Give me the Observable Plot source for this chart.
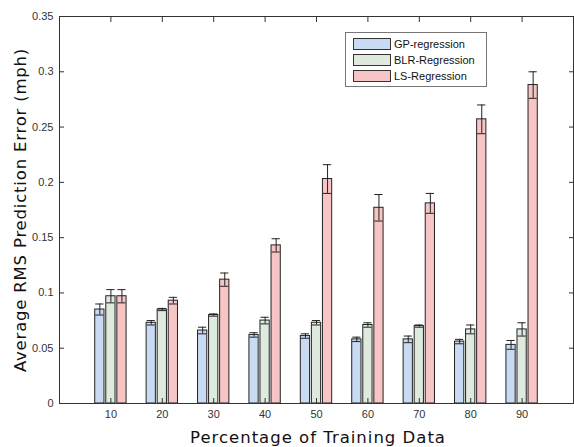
<!DOCTYPE html>
<html>
<head>
<meta charset="utf-8">
<script src="https://cdn.jsdelivr.net/npm/d3@7"></script>
<script src="https://cdn.jsdelivr.net/npm/@observablehq/plot@0.6"></script>
<style>
  body { margin: 0; background: #fff; }
  #wrap { position: relative; width: 574px; height: 447px; overflow: hidden; }
  #legend { position: absolute; left: 345px; top: 32px; width: 142px; height: 55px;
    border: 1px solid #777; background: #fff; font: 11px "Liberation Sans", Arial, sans-serif; color: #111; box-sizing: border-box; }
  .row { position: absolute; left: 7px; height: 13px; display: flex; align-items: center; }
  .sw { width: 38px; height: 12px; border: 1px solid #333; box-sizing: border-box; margin-right: 3px; }
  #ytitle { position: absolute; font: 16.5px "DejaVu Sans", sans-serif; letter-spacing: 0.8px; color: #111; white-space: nowrap;
    transform: translate(-50%, -50%) rotate(-90deg); left: 20px; top: 210px; }
  #xtitle { position: absolute; font: 16.5px "DejaVu Sans", sans-serif; letter-spacing: 1px; color: #111; white-space: nowrap;
    transform: translateX(-50%); left: 318px; top: 428px; }
</style>
</head>
<body>
<div id="wrap"></div>
<script>
const categories = [10, 20, 30, 40, 50, 60, 70, 80, 90];
const seriesNames = ["GP-regression", "BLR-Regression", "LS-Regression"];
const gp     = [0.085, 0.073, 0.066, 0.062, 0.061, 0.058, 0.058, 0.056, 0.053];
const gpErr  = [0.005, 0.002, 0.003, 0.002, 0.002, 0.002, 0.003, 0.002, 0.004];
const blr    = [0.097, 0.085, 0.080, 0.075, 0.073, 0.071, 0.070, 0.067, 0.067];
const blrErr = [0.006, 0.001, 0.001, 0.003, 0.002, 0.002, 0.001, 0.004, 0.006];
const ls     = [0.097, 0.093, 0.112, 0.143, 0.203, 0.177, 0.181, 0.257, 0.288];
const lsErr  = [0.006, 0.003, 0.006, 0.006, 0.013, 0.012, 0.009, 0.013, 0.012];
const yTicks = [0, 0.05, 0.1, 0.15, 0.2, 0.25, 0.3, 0.35];
const colors = ["#c9dbf3", "#dfeadf", "#f7c5c5"];

// layout (in x data units)
const offsets = [-2.15, 0, 2.15];
const barW = 1.8;
const capW = 1.6;

const vals = [gp, blr, ls], errs = [gpErr, blrErr, lsErr];
const rows = [];
seriesNames.forEach((s, si) => categories.forEach((c, ci) => {
  rows.push({series: s, cat: c, xc: c + offsets[si], v: vals[si][ci], e: errs[si][ci], color: colors[si]});
}));

const tf = d => String(+d.toFixed(2));

const chart = Plot.plot({
  width: 574, height: 447,
  marginLeft: 59, marginRight: 1, marginTop: 16, marginBottom: 44,
  style: {fontFamily: "'Liberation Sans', Arial, sans-serif", fontSize: "11px", color: "#222", background: "#fff"},
  x: {domain: [0, 100], ticks: categories, tickFormat: d => d, label: null},
  y: {domain: [0, 0.35], ticks: yTicks, tickFormat: tf, label: null},
  marks: [
    Plot.rectY(rows, {x1: d => d.xc - barW / 2, x2: d => d.xc + barW / 2, y1: 0, y2: "v", fill: "color", stroke: "#222", strokeWidth: 1}),
    Plot.ruleX(rows, {x: "xc", y1: d => d.v - d.e, y2: d => d.v + d.e, stroke: "#222", strokeWidth: 1}),
    Plot.ruleY(rows, {y: d => d.v + d.e, x1: d => d.xc - capW / 2, x2: d => d.xc + capW / 2, stroke: "#222", strokeWidth: 1}),
    Plot.ruleY(rows, {y: d => d.v - d.e, x1: d => d.xc - capW / 2, x2: d => d.xc + capW / 2, stroke: "#222", strokeWidth: 1}),
    Plot.frame({stroke: "#333"}),
    Plot.axisY({anchor: "left", ticks: yTicks, tickFormat: tf, tickSize: -5, tickPadding: 11, stroke: "#333", fill: "#333"}),
    Plot.axisY({anchor: "right", ticks: yTicks, tickFormat: () => "", tickSize: -5, stroke: "#333"}),
    Plot.axisX({anchor: "bottom", ticks: categories, tickFormat: d => d, tickSize: -5, tickPadding: 12, stroke: "#333", fill: "#333"}),
    Plot.axisX({anchor: "top", ticks: categories, tickFormat: () => "", tickSize: -5, stroke: "#333"})
  ]
});

const wrap = document.getElementById("wrap");
wrap.appendChild(chart);

const yt = document.createElement("div"); yt.id = "ytitle"; yt.textContent = "Average RMS Prediction Error (mph)"; wrap.appendChild(yt);
const xt = document.createElement("div"); xt.id = "xtitle"; xt.textContent = "Percentage of Training Data"; wrap.appendChild(xt);

const lg = document.createElement("div"); lg.id = "legend";
seriesNames.forEach((s, i) => {
  const r = document.createElement("div"); r.className = "row"; r.style.top = (4 + i * 16) + "px";
  const sw = document.createElement("div"); sw.className = "sw"; sw.style.background = colors[i];
  const t = document.createElement("span"); t.textContent = s;
  r.appendChild(sw); r.appendChild(t); lg.appendChild(r);
});
wrap.appendChild(lg);
</script>
</body>
</html>
